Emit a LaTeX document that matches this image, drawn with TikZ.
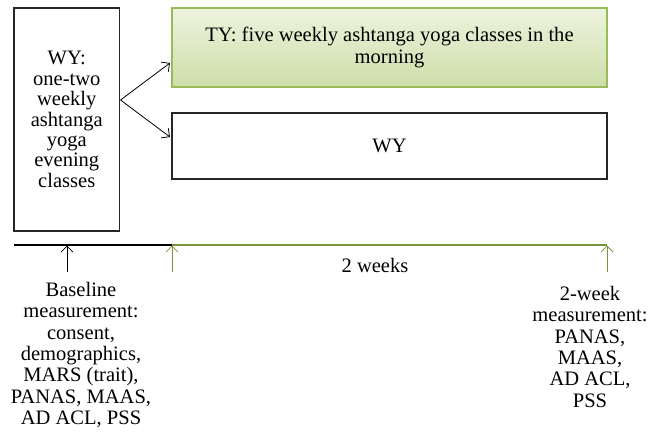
\documentclass[tikz,border=0pt]{standalone}
\usepackage{fontspec}
\setmainfont{Liberation Serif}
\usepackage{xcolor}
\usepackage{tikz}
\usetikzlibrary{arrows.meta,calc}
\definecolor{ygreen}{RGB}{155, 187, 89}
\definecolor{ygreendark}{RGB}{119, 147, 60}
\definecolor{ytop}{RGB}{238, 243, 223}
\definecolor{ybottom}{RGB}{205, 222, 168}

\begin{document}
\begin{tikzpicture}[x=0.75pt, y=-0.75pt,
    every node/.style={font=\fontsize{15.4pt}{15.3pt}\selectfont, align=center, inner sep=0pt},
    plainbox/.style={draw=black!85, line width=0.8pt},
    greenbox/.style={draw=ygreen, line width=0.8pt, top color=ytop, bottom color=ybottom},
    note/.style={anchor=north, font=\fontsize{15.4pt}{16pt}\selectfont},
    barb/.style={-{Straight Barb[length=4.5pt,width=9pt]}, line width=0.6pt}]
\useasboundingbox (0,0) rectangle (661,432);

% Groups
\node[plainbox, minimum width=79.1pt, minimum height=167.25pt] (wy) at (66.75,119.5)
    {WY:\\one-two\\weekly\\ashtanga\\yoga\\evening\\classes};
\node[greenbox, minimum width=326.25pt, minimum height=59.25pt,
    font=\fontsize{15.4pt}{16.5pt}\selectfont] (ty) at (389.5,47.5)
    {TY: five weekly ashtanga yoga classes in the\\morning};
\node[plainbox, minimum width=326.25pt, minimum height=49.5pt] (wyout) at (389.5,146) {WY};

% Allocation
\coordinate (fork) at ($(wy.east)+(0.5,-19.5)$);
\draw[barb] (fork) -- ($(ty.west)+(-1.5,15.5)$);
\draw[barb] (fork) -- ($(wyout.west)+(-1.5,-9)$);

% Time line
\coordinate (t0) at (14,245);
\coordinate (t1) at (172,245);
\coordinate (t2) at (607,245);
\draw[line width=1pt] (t0) -- (t1);
\draw[ygreendark, line width=1pt] (t1) -- (t2);
\foreach \xx/\cc in {67/black, 172/ygreendark, 607/ygreendark}
    \draw[barb, \cc] (\xx,272) -- (\xx,245.5);
\node (span) at (375,265) {2 weeks};

% Measurements
\node[note] (base) at (81,282)
    {Baseline\\measurement:\\consent,\\demographics,\\MARS (trait),\\PANAS, MAAS,\\AD ACL, PSS};
\node[note] (week) at (590,286)
    {2-week\\measurement:\\PANAS,\\MAAS,\\AD ACL,\\PSS};
\end{tikzpicture}
\end{document}
